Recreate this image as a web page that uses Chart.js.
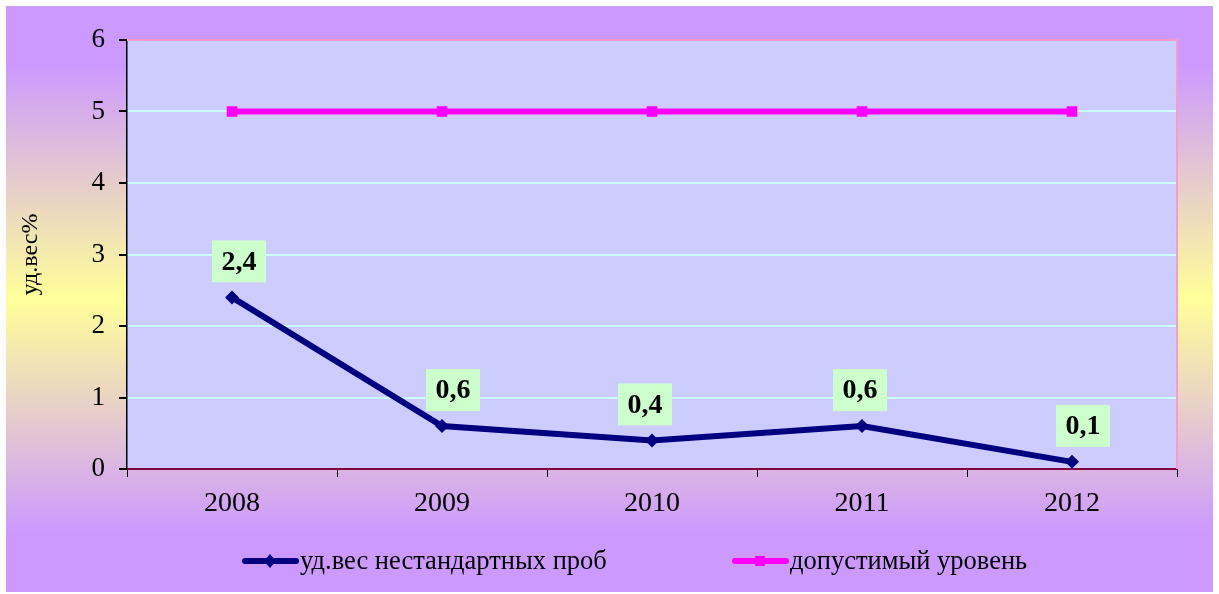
<!DOCTYPE html>
<html>
<head>
<meta charset="utf-8">
<script src="https://cdn.jsdelivr.net/npm/chart.js@4.4.0/dist/chart.umd.min.js"></script>
<style>
  html, body { margin: 0; padding: 0; background: #fff; }
  #wrap { width: 1219px; height: 594px; }
</style>
</head>
<body>
<div id="wrap"><canvas id="lineChart" width="1219" height="594"></canvas></div>
<script>
// Chart data
const years = ['2008', '2009', '2010', '2011', '2012'];
const sampleShare = [2.4, 0.6, 0.4, 0.6, 0.1];
const allowedLevel = [5, 5, 5, 5, 5];
const sampleLabels = ['2,4', '0,6', '0,4', '0,6', '0,1'];
const seriesNames = ['уд.вес нестандартных проб', 'допустимый уровень'];

// Small horizontal nudges of the value labels (as placed in the original)
const labelShiftX = [7, 11, -7, -2, 11];

const serif = "'Liberation Serif', 'Times New Roman', serif";

// Background gradient, plot area fill and borders
const backgroundPlugin = {
    id: 'backgroundPlugin',
    beforeDraw(chart) {
        const ctx = chart.ctx;
        const area = chart.chartArea;
        ctx.save();
        ctx.fillStyle = '#ffffff';
        ctx.fillRect(0, 0, chart.width, chart.height);
        const grad = ctx.createLinearGradient(0, 6, 0, 592);
        grad.addColorStop(0, '#CC99FF');
        grad.addColorStop(0.1, '#CC99FF');
        grad.addColorStop(0.5, '#FFFF99');
        grad.addColorStop(0.9, '#CC99FF');
        grad.addColorStop(1, '#CC99FF');
        ctx.fillStyle = grad;
        ctx.fillRect(6, 6, 1207, 586);
        ctx.fillStyle = '#CCCCFF';
        ctx.fillRect(area.left, area.top, area.right - area.left, area.bottom - area.top);
        ctx.restore();
    },
    beforeDatasetsDraw(chart) {
        const ctx = chart.ctx;
        const area = chart.chartArea;
        ctx.save();
        ctx.strokeStyle = '#FF99CC';
        ctx.lineWidth = 2;
        ctx.beginPath();
        ctx.moveTo(area.left, area.top);
        ctx.lineTo(area.right, area.top);
        ctx.lineTo(area.right, area.bottom);
        ctx.stroke();
        ctx.restore();
    }
};

// Value labels above the first series
const valueLabelPlugin = {
    id: 'valueLabelPlugin',
    afterDatasetsDraw(chart) {
        const ctx = chart.ctx;
        const meta = chart.getDatasetMeta(0);
        ctx.save();
        ctx.font = 'bold 28px ' + serif;
        ctx.textAlign = 'center';
        ctx.textBaseline = 'middle';
        meta.data.forEach((pt, i) => {
            const w = 54, h = 42;
            const cx = pt.x + labelShiftX[i];
            const bottom = pt.y - 15;
            ctx.fillStyle = '#CCFFCC';
            ctx.fillRect(cx - w / 2, bottom - h, w, h);
            ctx.fillStyle = '#000000';
            ctx.fillText(sampleLabels[i], cx, bottom - h / 2 + 1);
        });
        ctx.restore();
    }
};

// Legend at the bottom (line with marker, then name)
const legendPlugin = {
    id: 'legendPlugin',
    afterDraw(chart) {
        const ctx = chart.ctx;
        const y = 561;
        const items = [
            { x: 242, color: '#000080', marker: 'diamond' },
            { x: 732, color: '#FF00FF', marker: 'square' }
        ];
        ctx.save();
        items.forEach((item, i) => {
            ctx.strokeStyle = item.color;
            ctx.lineWidth = 6;
            ctx.lineCap = 'round';
            ctx.beginPath();
            ctx.moveTo(item.x + 3, y);
            ctx.lineTo(item.x + 54, y);
            ctx.stroke();
            ctx.fillStyle = item.color;
            const cx = item.x + 28;
            if (item.marker === 'diamond') {
                ctx.beginPath();
                ctx.moveTo(cx, y - 7);
                ctx.lineTo(cx + 6, y);
                ctx.lineTo(cx, y + 7);
                ctx.lineTo(cx - 6, y);
                ctx.closePath();
                ctx.fill();
            } else {
                ctx.fillRect(cx - 5, y - 5, 10, 10);
            }
            ctx.fillStyle = '#000000';
            ctx.font = '26.5px ' + serif;
            ctx.textAlign = 'left';
            ctx.textBaseline = 'middle';
            ctx.fillText(seriesNames[i], item.x + 58, y + 1);
        });
        ctx.restore();
    }
};

const ctx = document.getElementById('lineChart');

new Chart(ctx, {
    type: 'line',
    data: {
        labels: years,
        datasets: [{
            label: seriesNames[0],
            data: sampleShare,
            borderColor: '#000080',
            backgroundColor: '#000080',
            borderWidth: 6,
            pointStyle: 'rectRot',
            pointRadius: 7,
            pointBorderWidth: 0,
            tension: 0
        }, {
            label: seriesNames[1],
            data: allowedLevel,
            borderColor: '#FF00FF',
            backgroundColor: '#FF00FF',
            borderWidth: 6,
            pointStyle: 'rect',
            pointRadius: 7.5,
            pointBorderWidth: 0,
            tension: 0
        }]
    },
    options: {
        responsive: false,
        animation: false,
        layout: {
            padding: { top: 40, right: 42, bottom: 80, left: 0 }
        },
        plugins: {
            legend: { display: false },
            tooltip: { enabled: false }
        },
        scales: {
            x: {
                offset: true,
                grid: {
                    offset: true,
                    drawOnChartArea: false,
                    tickLength: 8,
                    tickColor: '#000000'
                },
                border: { color: '#800040', width: 2 },
                ticks: {
                    color: '#000000',
                    font: { family: serif, size: 28 },
                    padding: 10
                },
                afterFit(scale) { scale.height = 45; }
            },
            y: {
                min: 0,
                max: 6,
                ticks: {
                    stepSize: 1,
                    color: '#000000',
                    font: { family: serif, size: 27 },
                    padding: 14
                },
                grid: {
                    color: (c) => (c.tick && c.tick.value > 0 && c.tick.value < 6) ? '#CCFFFF' : 'rgba(0,0,0,0)',
                    lineWidth: 2,
                    tickLength: 8,
                    tickColor: '#000000'
                },
                border: { color: '#000000', width: 1.5 },
                title: {
                    display: true,
                    text: 'уд.вес%',
                    color: '#000000',
                    font: { family: serif, size: 24 },
                    padding: { top: 16, bottom: 0 }
                },
                afterFit(scale) { scale.width = 127; }
            }
        }
    },
    plugins: [backgroundPlugin, valueLabelPlugin, legendPlugin]
});
</script>
</body>
</html>
